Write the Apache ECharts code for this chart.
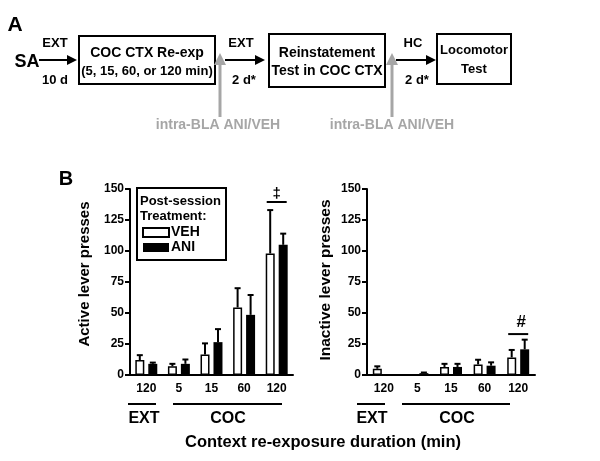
<!DOCTYPE html>
<html><head><meta charset="utf-8">
<script src="https://cdn.jsdelivr.net/npm/echarts@6/dist/echarts.min.js"></script>
<style>html,body{margin:0;padding:0;background:#fff}#c{width:600px;height:461px}</style>
</head><body><div id="c"></div>
<script>
// ---- data ----
const categories = ['120', '5', '15', '60', '120'];
const yTicks = [0, 25, 50, 75, 100, 125, 150];
const activeVEH = [12, 7, 16.5, 54.5, 98];
const activeVEHerr = [4, 2, 9, 15.5, 35];
const activeANI = [9, 9, 26.5, 48.5, 105];
const activeANIerr = [1, 3.5, 10.5, 16, 9];
const inactiveVEH = [5, 0.5, 6.5, 8.5, 14.2];
const inactiveVEHerr = [2, 0, 2.5, 3.8, 6];
const inactiveANI = [0, 1.5, 6.5, 7.5, 20.7];
const inactiveANIerr = [0, 0.5, 2.5, 2.7, 7.8];
const sigActive = [4, 139.5, '\u2021'];
const sigInactive = [4, 33, '#'];

const F = "'Liberation Sans', Arial, Helvetica, sans-serif";
const chart = echarts.init(document.getElementById('c'), null, {renderer: 'canvas'});

function errSeries(xi, vals, errs, off) {
  return {
    type: 'custom', xAxisIndex: xi, yAxisIndex: xi, z: 5, silent: true,
    data: vals.map((v, i) => [i, v, errs[i]]),
    encode: {x: 0, y: 1},
    renderItem(params, api) {
      const e = api.value(2);
      if (!e) return null;
      const p0 = api.coord([api.value(0), api.value(1)]);
      const p1 = api.coord([api.value(0), api.value(1) + e]);
      const x = p0[0] + off;
      return {type: 'group', children: [
        {type: 'line', shape: {x1: x, y1: p0[1], x2: x, y2: p1[1]}, style: {stroke: '#000', lineWidth: 2}},
        {type: 'line', shape: {x1: x - 3, y1: p1[1], x2: x + 3, y2: p1[1]}, style: {stroke: '#000', lineWidth: 2}}
      ]};
    }
  };
}
function sigSeries(xi, sig, size, lift) {
  return {
    type: 'custom', xAxisIndex: xi, yAxisIndex: xi, z: 6, silent: true,
    data: [[sig[0], sig[1]]],
    encode: {x: 0, y: 1},
    renderItem(params, api) {
      const c = api.coord([api.value(0), api.value(1)]);
      return {type: 'group', children: [
        {type: 'line', shape: {x1: c[0] - 10, y1: c[1], x2: c[0] + 10, y2: c[1]}, style: {stroke: '#000', lineWidth: 2}},
        {type: 'text', x: c[0] + (xi ? 3 : 0), y: c[1] - lift, style: {text: sig[2], font: 'bold ' + size + 'px ' + F, fill: '#000', align: 'center', verticalAlign: 'middle'}}
      ]};
    }
  };
}
function barSeries(name, xi, data) {
  const veh = name === 'VEH';
  return {
    type: 'bar', name, xAxisIndex: xi, yAxisIndex: xi, data,
    barWidth: 9, barGap: '44%',
    itemStyle: veh ? {color: '#fff', borderColor: '#000', borderWidth: 1.5} : {color: '#000', borderColor: '#000', borderWidth: 0}
  };
}
function yAxis(gi, name, gap, size, shift) {
  return {
    type: 'value', gridIndex: gi, min: 0, max: 150, interval: 25,
    name, nameLocation: 'middle', nameRotate: 90, nameGap: gap,
    nameTextStyle: {fontFamily: F, fontWeight: 'bold', fontSize: size, color: '#000', padding: [0, 0, 0, shift]},
    axisLine: {show: true, lineStyle: {color: '#000', width: 2}},
    axisTick: {show: true, length: 5, lineStyle: {color: '#000', width: 2}},
    axisLabel: {fontFamily: F, fontWeight: 'bold', fontSize: 12, color: '#000', margin: 6,
      formatter: v => yTicks.includes(v) ? String(v) : ''},
    splitLine: {show: false}
  };
}
function xAxis(gi) {
  return {
    type: 'category', gridIndex: gi, data: categories,
    axisLine: {show: true, lineStyle: {color: '#000', width: 2}},
    axisTick: {show: false},
    axisLabel: {fontFamily: F, fontWeight: 'bold', fontSize: 12, color: '#000', margin: 8, interval: 0}
  };
}

function T(x, y, s, size, color) {
  return {type: 'text', x, y, silent: true, style: {text: s, font: 'bold ' + size + 'px ' + F, fill: color || '#000', align: 'center', verticalAlign: 'middle'}};
}
function L(x1, y1, x2, y2, w, color) {
  return {type: 'line', silent: true, shape: {x1, y1, x2, y2}, style: {stroke: color || '#000', lineWidth: w || 2}};
}
function R(x, y, w, h) {
  return {type: 'rect', silent: true, shape: {x, y, width: w, height: h}, style: {fill: 'transparent', stroke: '#000', lineWidth: 2}};
}
function arrowH(x1, x2, y) {
  return [L(x1, y, x2 - 8, y, 2), {type: 'polygon', silent: true, shape: {points: [[x2 - 10, y - 5], [x2, y], [x2 - 10, y + 5]]}, style: {fill: '#000'}}];
}
const GRAY = '#a6a6a6';
function arrowUp(x, y1, y2) {
  return [L(x, y1, x, y2 + 10, 3, GRAY), {type: 'polygon', silent: true, shape: {points: [[x - 6, y2 + 12], [x, y2], [x + 6, y2 + 12]]}, style: {fill: GRAY}}];
}

const graphics = [
  T(15, 25, 'A', 21),
  T(27, 62, 'SA', 18),
  ...arrowH(39, 77, 60),
  T(55, 43, 'EXT', 13), T(55, 80, '10 d', 13),
  R(79, 36, 136, 48),
  T(147, 53, 'COC CTX Re-exp', 14), T(147, 71, '(5, 15, 60, or 120 min)', 13),
  ...arrowUp(220, 117, 53),
  T(218, 125, 'intra-BLA ANI/VEH', 14, GRAY),
  ...arrowH(225, 265, 60),
  T(241, 43, 'EXT', 13), T(244, 80, '2 d*', 13),
  R(269, 34, 116, 53),
  T(327, 53, 'Reinstatement', 14), T(327, 71, 'Test in COC CTX', 14),
  ...arrowUp(392, 117, 53),
  T(392, 125, 'intra-BLA ANI/VEH', 14, GRAY),
  ...arrowH(396, 436, 60),
  T(413, 43, 'HC', 13), T(417, 80, '2 d*', 13),
  R(437, 34, 74, 50),
  T(474, 50, 'Locomotor', 13), T(474, 69, 'Test', 13),
  T(66, 179, 'B', 20),
  // legend box + title
  R(137, 188, 89, 72),
  {type: 'text', x: 140, y: 201, silent: true, style: {text: 'Post-session', font: 'bold 13px ' + F, fill: '#000', align: 'left', verticalAlign: 'middle'}},
  {type: 'text', x: 140, y: 216, silent: true, style: {text: 'Treatment:', font: 'bold 13px ' + F, fill: '#000', align: 'left', verticalAlign: 'middle'}},
  // group brackets
  L(128, 404, 156, 404, 2), L(173, 404, 282, 404, 2),
  T(144, 419, 'EXT', 16), T(228, 419, 'COC', 16),
  L(357, 404, 385, 404, 2), L(402, 404, 510, 404, 2),
  T(372, 419, 'EXT', 16), T(457, 419, 'COC', 16),
  T(323, 442, 'Context re-exposure duration (min)', 16.5)
];

chart.setOption({
  animation: false,
  backgroundColor: '#fff',
  textStyle: {fontFamily: F},
  grid: [
    {left: 130, top: 189, width: 163, height: 186},
    {left: 367, top: 189, width: 168, height: 186}
  ],
  xAxis: [xAxis(0), xAxis(1)],
  yAxis: [yAxis(0, 'Active lever presses', 38, 15, 16), yAxis(1, 'Inactive lever presses', 33, 15.5, 4)],
  legend: {
    data: ['VEH', 'ANI'], orient: 'vertical', left: 142, top: 225, padding: 0,
    itemWidth: 26, itemHeight: 9, itemGap: 0, selectedMode: false, icon: 'rect',
    textStyle: {fontFamily: F, fontWeight: 'bold', fontSize: 14, color: '#000', lineHeight: 15, padding: [0, 0, 0, -3]}
  },
  graphic: graphics,
  series: [
    barSeries('VEH', 0, activeVEH), barSeries('ANI', 0, activeANI),
    barSeries('VEH', 1, inactiveVEH), barSeries('ANI', 1, inactiveANI),
    errSeries(0, activeVEH, activeVEHerr, -6.5), errSeries(0, activeANI, activeANIerr, 6.5),
    errSeries(1, inactiveVEH, inactiveVEHerr, -6.5), errSeries(1, inactiveANI, inactiveANIerr, 6.5),
    sigSeries(0, sigActive, 15, 8), sigSeries(1, sigInactive, 17, 12)
  ]
});
</script></body></html>
